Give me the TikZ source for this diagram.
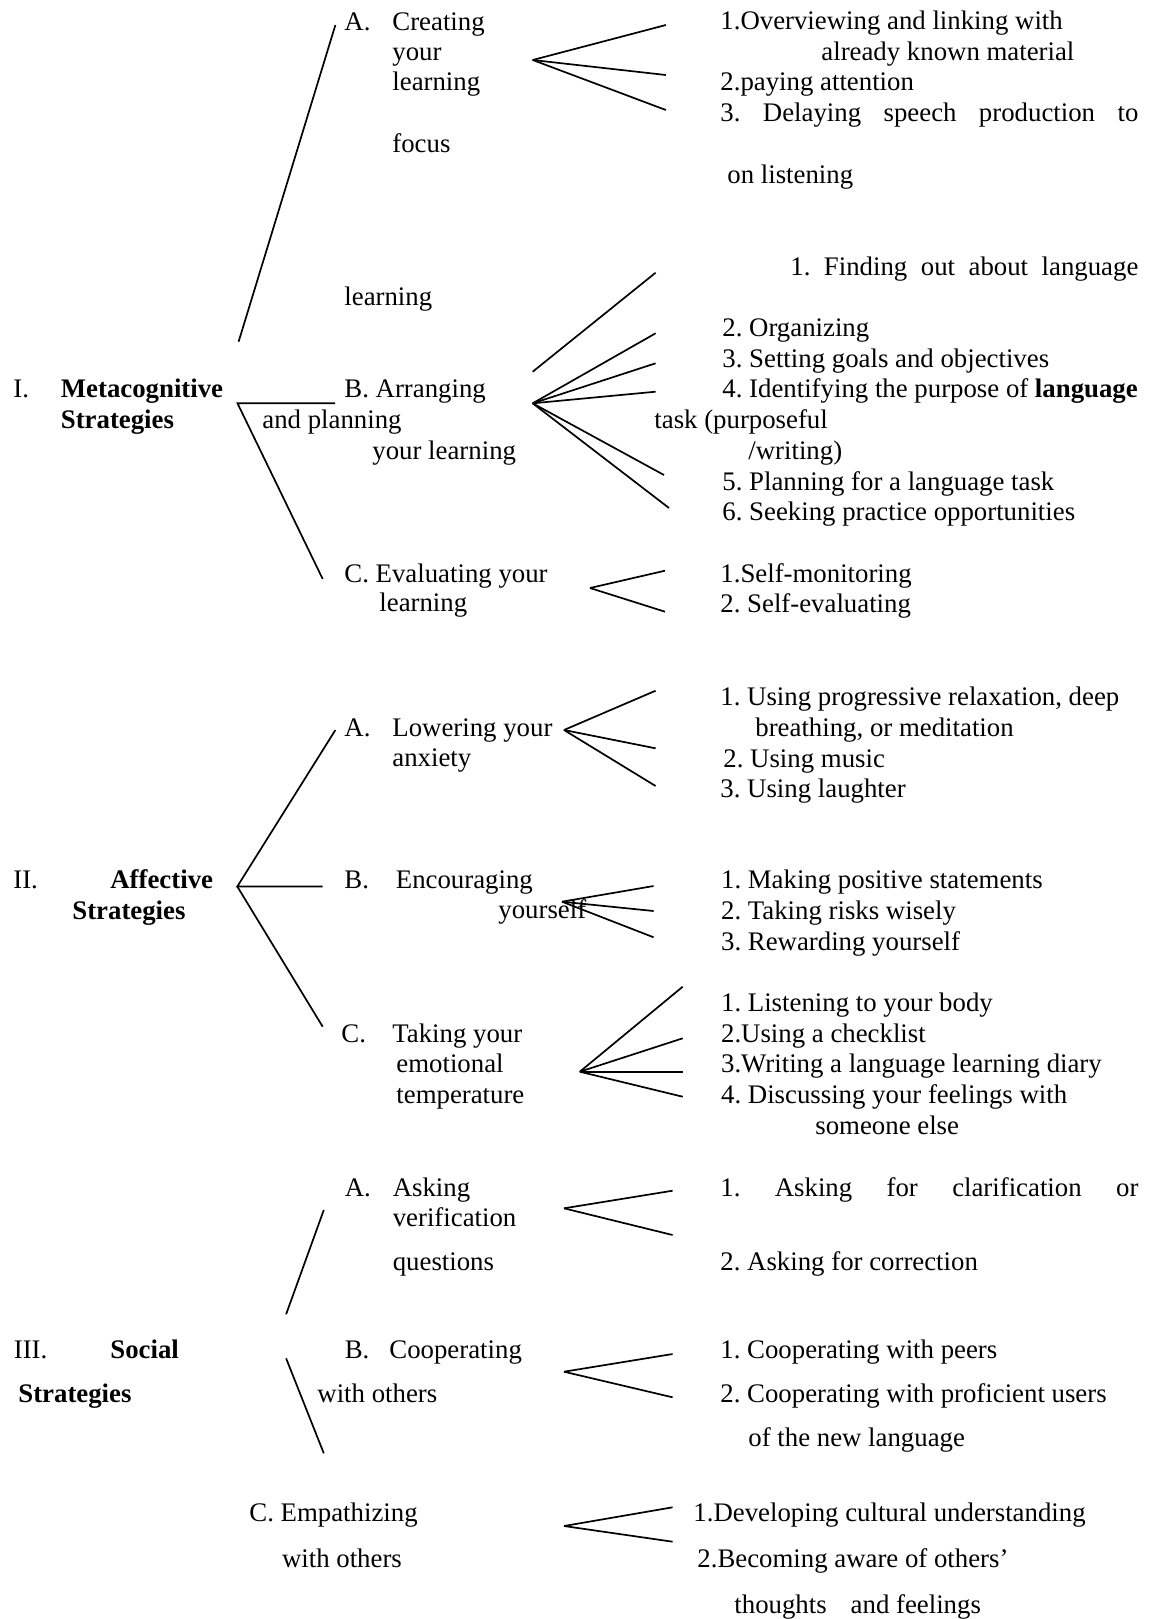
\documentclass[tikz,border=0pt]{standalone}
\usepackage{fontspec}
\setmainfont{Liberation Serif}
\frenchspacing
\begin{document}
\begin{tikzpicture}[x=.5pt,y=-.5pt,font=\fontsize{13.4}{15}\selectfont,txt/.style={anchor=base west,inner sep=0pt},br/.style={line width=.85pt}]
\useasboundingbox (0,0) rectangle (1148,1619);
\node[txt] (rI) at (13,397){I.};\node[txt] (rImeta) at (60.5,397){\textbf{Metacognitive}};\node[txt] (rIstrat) at (60.5,428){\textbf{Strategies}};
\node[txt] (IAlab) at (344,30){A.};\node[txt] (IA1) at (392,30){Creating};\node[txt] (IA2) at (392,60){your};\node[txt] (IA3) at (392,90){learning};\node[txt] (IA4) at (392,152){focus};
\node[txt] (IAs1) at (720,29){1.Overviewing and linking with};\node[txt] (IAs1b) at (821,60){already known material};\node[txt] (IAs2) at (720,90){2.paying attention};
\node[txt] (IAs3) at (720,121){\makebox[209pt][s]{3. Delaying speech production to}};\node[txt] (IAs3b) at (727,183){on listening};
\node[txt] (IBpre) at (344,305){learning};\node[txt] (IBs1) at (790,275){\makebox[174pt][s]{1. Finding out about language}};
\node[txt] (IBs2) at (722,336){2. Organizing};\node[txt] (IBs3) at (722,367){3. Setting goals and objectives};\node[txt] (IBs4) at (722,397){4. Identifying the purpose of \textbf{language}};
\node[txt] (IB1) at (344,397){B. Arranging};\node[txt] (IB2) at (262,428){and planning};\node[txt] (IB3) at (372,459){your learning};
\node[txt] (IBs4b) at (654,428){task (purposeful};\node[txt] (IBs4c) at (748,459){/writing)};\node[txt] (IBs5) at (722,490){5. Planning for a language task};\node[txt] (IBs6) at (722,520){6. Seeking practice opportunities};
\node[txt] (IC1) at (344,582){C. Evaluating your};\node[txt] (IC2) at (379,611){learning};\node[txt] (ICs1) at (720,582){1.Self-monitoring};\node[txt] (ICs2) at (720,612){2. Self-evaluating};
\node[txt] (rII) at (13,888){II.};\node[txt] (rIIaff) at (110,888){\textbf{Affective}};\node[txt] (rIIstrat) at (72,919){\textbf{Strategies}};
\node[txt] (IIAlab) at (344,736){A.};\node[txt] (IIA1) at (392,736){Lowering your};\node[txt] (IIA2) at (392,766){anxiety};
\node[txt] (IIAs1) at (720,705){1. Using progressive relaxation, deep};\node[txt] (IIAs1b) at (755,736){breathing, or meditation};\node[txt] (IIAs2) at (723,767){2. Using music};\node[txt] (IIAs3) at (720,797){3. Using laughter};
\node[txt] (IIBlab) at (344,888){B.};\node[txt] (IIB1) at (395.5,888){Encouraging};\node[txt] (IIB2) at (498,918.5){yourself};
\node[txt] (IIBs1) at (720.7,888){1. Making positive statements};\node[txt] (IIBs2) at (720.7,919.5){2. Taking risks wisely};\node[txt] (IIBs3) at (720.7,950.5){3. Rewarding yourself};
\node[txt] (IIClab) at (341,1042.5){C.};\node[txt] (IIC1) at (392,1042.5){Taking your};\node[txt] (IIC2) at (396,1072.4){emotional};\node[txt] (IIC3) at (396,1103.4){temperature};
\node[txt] (IICs1) at (720.7,1011.5){1. Listening to your body};\node[txt] (IICs2) at (720.7,1042.5){2.Using a checklist};\node[txt] (IICs3) at (720.7,1072.4){3.Writing a language learning diary};
\node[txt] (IICs4) at (720.7,1103.4){4. Discussing your feelings with};\node[txt] (IICs4b) at (815,1134){someone else};
\node[txt] (rIII) at (13.5,1358){III.};\node[txt] (rIIIsoc) at (110,1358){\textbf{Social}};\node[txt] (rIIIstrat) at (18,1402){\textbf{Strategies}};
\node[txt] (IIIAlab) at (344.4,1196){A.};\node[txt] (IIIA1) at (392.4,1196){Asking};\node[txt] (IIIA2) at (392.4,1226.5){verification};\node[txt] (IIIA3) at (392.4,1270.5){questions};
\node[txt] (IIIAs1) at (720,1196){\makebox[209pt][s]{1. Asking for clarification or}};\node[txt] (IIIAs2) at (720,1270.5){2. Asking for correction};
\node[txt] (IIIBlab) at (344.4,1358){B.};\node[txt] (IIIB1) at (389,1358){Cooperating};\node[txt] (IIIB2) at (317,1402){with others};
\node[txt] (IIIBs1) at (720,1358){1. Cooperating with peers};\node[txt] (IIIBs2) at (720,1402.8){2. Cooperating with proficient users};\node[txt] (IIIBs2b) at (748,1446){of the new language};
\node[txt] (IIIC1) at (249,1521){C. Empathizing};\node[txt] (IIIC2) at (281.6,1567){with others};
\node[txt] (IIICs1) at (693,1521.5){1.Developing cultural understanding};\node[txt] (IIICs2) at (697,1567){2.Becoming aware of others’};\node[txt] (IIICs2b) at (734,1613){thoughts\hspace{12pt}and feelings};
\coordinate (Itop) at (238.6,341.7);\coordinate (Iroot) at (237.5,403.3);\coordinate (IAend) at (335.4,25);\coordinate (IBend) at (335,403.3);\coordinate (ICend) at (322.7,579);
\draw[br] (Itop)--(IAend);\draw[br] (IBend)--(Iroot)--(ICend);
\coordinate (vIA) at (532.7,60);\foreach \k/\y in {1/25,2/75,3/110}{\coordinate (eIA\k) at (665.9,\y);\draw[br] (vIA)--(eIA\k);}
\coordinate (vIB) at (532.7,403.3);\coordinate (sIB) at (532.7,371.7);\coordinate (eIB0) at (655.6,272.7);\draw[br] (sIB)--(eIB0);
\foreach \k/\x/\y in {1/655.6/333.3,2/655.6/363.3,3/655.6/391.7,4/664/475,5/669/508}{\coordinate (eIB\k) at (\x,\y);\draw[br] (vIB)--(eIB\k);}
\coordinate (vIC) at (590,588);\foreach \k/\y in {1/570.7,2/611.7}{\coordinate (eIC\k) at (665,\y);\draw[br] (vIC)--(eIC\k);}
\coordinate (IIroot) at (237.3,886.5);\coordinate (IIAend) at (335.4,730);\coordinate (IIBend) at (322.7,886.5);\coordinate (IICend) at (322.7,1026.7);
\draw[br] (IIAend)--(IIroot)--(IIBend);\draw[br] (IIroot)--(IICend);
\coordinate (vIIA) at (564,730);\foreach \k/\y in {1/690.7,2/748.3,3/786}{\coordinate (eIIA\k) at (655.6,\y);\draw[br] (vIIA)--(eIIA\k);}
\coordinate (vIIB) at (562,901.7);\foreach \k/\y in {1/886,2/911,3/937.3}{\coordinate (eIIB\k) at (653.6,\y);\draw[br] (vIIB)--(eIIB\k);}
\coordinate (vIIC) at (579.8,1071.7);\foreach \k/\y in {1/986.7,2/1038.3,3/1071.7,4/1096.7}{\coordinate (eIIC\k) at (682.7,\y);\draw[br] (vIIC)--(eIIC\k);}
\coordinate (IIIAa) at (286.1,1314.3);\coordinate (IIIAb) at (323.8,1210);\coordinate (IIIBa) at (286.1,1358.3);\coordinate (IIIBb) at (323.8,1453.3);
\draw[br] (IIIAa)--(IIIAb);\draw[br] (IIIBa)--(IIIBb);
\coordinate (vIIIA) at (564,1208.3);\foreach \k/\y in {1/1190.7,2/1235}{\coordinate (eIIIA\k) at (672.6,\y);\draw[br] (vIIIA)--(eIIIA\k);}
\coordinate (vIIIB) at (564,1371.7);\foreach \k/\y in {1/1354,2/1397.3}{\coordinate (eIIIB\k) at (672.6,\y);\draw[br] (vIIIB)--(eIIIB\k);}
\coordinate (vIIIC) at (564,1526);\foreach \k/\y in {1/1507.3,2/1541.7}{\coordinate (eIIIC\k) at (672.6,\y);\draw[br] (vIIIC)--(eIIIC\k);}
\end{tikzpicture}
\end{document}
